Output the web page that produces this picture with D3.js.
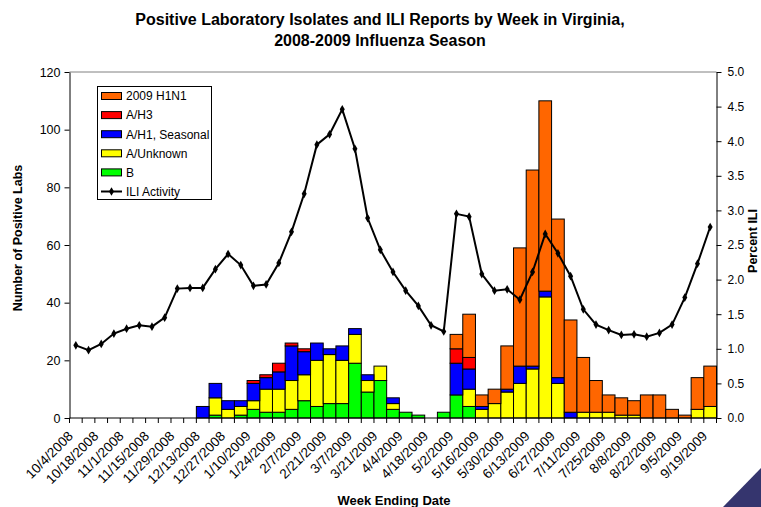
<!DOCTYPE html>
<html><head><meta charset="utf-8">
<script src="https://cdn.jsdelivr.net/npm/d3@7"></script>
<style>
body{margin:0;background:#fff;}
svg{display:block;}
text{font-family:"Liberation Sans",Arial,sans-serif;fill:#000;}
</style></head><body>
<svg id="c" width="761" height="507"></svg>
<script>
const weeks = ["10/4/2008","10/11/2008","10/18/2008","10/25/2008","11/1/2008","11/8/2008","11/15/2008","11/22/2008","11/29/2008","12/6/2008","12/13/2008","12/20/2008","12/27/2008","1/3/2009","1/10/2009","1/17/2009","1/24/2009","1/31/2009","2/7/2009","2/14/2009","2/21/2009","2/28/2009","3/7/2009","3/14/2009","3/21/2009","3/28/2009","4/4/2009","4/11/2009","4/18/2009","4/25/2009","5/2/2009","5/9/2009","5/16/2009","5/23/2009","5/30/2009","6/6/2009","6/13/2009","6/20/2009","6/27/2009","7/4/2009","7/11/2009","7/18/2009","7/25/2009","8/1/2009","8/8/2009","8/15/2009","8/22/2009","8/29/2009","9/5/2009","9/12/2009","9/19/2009"];
const B        = [0,0,0,0,0,0,0,0,0,0, 0,1,0,1,3,2,2,3,6,4, 5,5,19,9,13,3,2,1,0,2, 8,4,0,0,0,0,0,0,0,0, 0,0,0,0,0,0,0,0,0,0,0];
const AUnknown = [0,0,0,0,0,0,0,0,0,0, 0,6,3,3,3,8,8,10,9,16, 17,15,10,4,5,2,0,0,0,0, 0,6,3,5,9,12,17,42,12,0, 2,2,2,1,1,0,0,0,0,3,4];
const AH1      = [0,0,0,0,0,0,0,0,0,0, 4,5,3,2,6,4,6,12,8,6, 2,5,2,2,0,2,0,0,0,0, 11,7,1,0,1,6,1,2,2,2, 0,0,0,0,0,0,0,0,0,0,0];
const AH3      = [0,0,0,0,0,0,0,0,0,0, 0,0,0,0,1,1,3,1,1,0, 0,0,0,0,0,0,0,0,0,0, 5,4,0,0,0,0,0,0,0,0, 0,0,0,0,0,0,0,0,0,0,0];
const H1N1     = [0,0,0,0,0,0,0,0,0,0, 0,0,0,0,0,0,0,0,0,0, 0,0,0,0,0,0,0,0,0,0, 5,15,4,5,15,41,68,66,55,32, 19,11,6,6,5,8,8,3,1,11,14];
const ILI      = [1.05,0.98,1.07,1.22,1.29,1.34,1.32,1.45,1.87,1.88, 1.88,2.15,2.37,2.21,1.91,1.93,2.24,2.69,3.24,3.95, 4.10,4.46,3.89,2.89,2.43,2.11,1.84,1.62,1.34,1.25, 2.95,2.91,2.08,1.84,1.86,1.71,2.11,2.66,2.38,2.05, 1.57,1.35,1.27,1.20,1.21,1.175,1.23,1.35,1.74,2.23,2.76];
const leftTicks = [0,20,40,60,80,100,120];
const rightTicks = [0,0.5,1,1.5,2,2.5,3,3.5,4,4.5,5];
const seriesNames = ["B","A/Unknown","A/H1, Seasonal","A/H3","2009 H1N1"];
const seriesColors = ["#00FF00","#FFFF00","#0000FF","#FF0000","#FF6600"];
const legendOrder = ["2009 H1N1","A/H3","A/H1, Seasonal","A/Unknown","B"];

const svg = d3.select("#c");
const L = 69.5, R = 716.5, T = 72, Bt = 418;
const x = d3.scaleBand().domain(weeks).range([L, R]).padding(0);
const y = d3.scaleLinear().domain([0,120]).range([Bt, T]);
const y2 = d3.scaleLinear().domain([0,5]).range([Bt, T]);

const rows = weeks.map((w,i)=>({week:w, "B":B[i], "A/Unknown":AUnknown[i], "A/H1, Seasonal":AH1[i], "A/H3":AH3[i], "2009 H1N1":H1N1[i]}));
const stack = d3.stack().keys(seriesNames)(rows);

// top border of plot
svg.append("line").attr("x1",L).attr("x2",R).attr("y1",T).attr("y2",T).attr("stroke","#808080").attr("stroke-width",1);

// bars
svg.append("g").selectAll("g").data(stack).join("g")
  .attr("fill",(d,i)=>seriesColors[i])
  .selectAll("rect").data(d=>d.filter(s=>s[1]-s[0]>0)).join("rect")
  .attr("x",d=>x(d.data.week)).attr("width",x.bandwidth())
  .attr("y",d=>y(d[1])).attr("height",d=>y(d[0])-y(d[1]))
  .attr("stroke","#000").attr("stroke-width",1);

// left axis
const gl = svg.append("g").attr("transform",`translate(${L},0)`)
  .call(d3.axisLeft(y).tickValues(leftTicks).tickSize(5).tickSizeOuter(0).tickPadding(4));
gl.selectAll("text").style("font-size","12.5px").attr("fill","#000");
gl.selectAll("line,path").attr("stroke","#000");

// right axis
const gr = svg.append("g").attr("transform",`translate(${R},0)`)
  .call(d3.axisRight(y2).tickValues(rightTicks).tickFormat(d3.format(".1f")).tickSize(5).tickSizeOuter(0).tickPadding(6));
gr.selectAll("text").style("font-size","12px").attr("fill","#000");
gr.selectAll("line,path").attr("stroke","#000");

// bottom axis
svg.append("line").attr("x1",L).attr("x2",R).attr("y1",Bt).attr("y2",Bt).attr("stroke","#000");
svg.append("g").selectAll("line").data(weeks.concat([null])).join("line")
  .attr("x1",(d,i)=>L+i*x.step()).attr("x2",(d,i)=>L+i*x.step())
  .attr("y1",Bt).attr("y2",Bt+5).attr("stroke","#000");
svg.append("g").selectAll("text").data(weeks.filter((d,i)=>i%2===0)).join("text")
  .attr("transform",d=>`translate(${x(d)+x.bandwidth()/2-2},437) rotate(-45)`)
  .attr("text-anchor","end").style("font-size","13.5px").text(d=>d);

// ILI line
const line = d3.line().x((d,i)=>x(weeks[i])+x.bandwidth()/2).y(d=>y2(d));
svg.append("path").datum(ILI).attr("d",line).attr("fill","none").attr("stroke","#000").attr("stroke-width",2);
const diamond = d3.symbol().type(d3.symbolDiamond).size(22);
svg.append("g").selectAll("path").data(ILI).join("path")
  .attr("transform",(d,i)=>`translate(${x(weeks[i])+x.bandwidth()/2},${y2(d)})`)
  .attr("d",diamond).attr("fill","#000");

// legend
const lg = svg.append("g");
lg.append("rect").attr("x",97.5).attr("y",86.5).attr("width",114).attr("height",113).attr("fill","#fff").attr("stroke","#000");
legendOrder.forEach((n,k)=>{
  const cy = 96 + k*19.1;
  lg.append("rect").attr("x",101.5).attr("y",cy-3.5).attr("width",20).attr("height",7)
    .attr("fill",seriesColors[seriesNames.indexOf(n)]).attr("stroke","#000");
  lg.append("text").attr("x",126).attr("y",cy).attr("dy","0.36em").style("font-size","12px").text(n);
});
{
  const cy = 96 + 5*19.1;
  lg.append("line").attr("x1",101).attr("x2",122).attr("y1",cy).attr("y2",cy).attr("stroke","#000").attr("stroke-width",2);
  lg.append("path").attr("transform",`translate(111.5,${cy})`).attr("d",diamond).attr("fill","#000");
  lg.append("text").attr("x",126).attr("y",cy).attr("dy","0.36em").style("font-size","12px").text("ILI Activity");
}

// titles
svg.append("text").attr("x",380).attr("y",25).attr("text-anchor","middle")
  .style("font-family",'"Liberation Sans Narrow","Liberation Sans",Arial,sans-serif')
  .style("font-size","16px").style("font-weight","bold").text("Positive Laboratory Isolates and ILI Reports by Week in Virginia,");
svg.append("text").attr("x",380).attr("y",46).attr("text-anchor","middle")
  .style("font-family",'"Liberation Sans Narrow","Liberation Sans",Arial,sans-serif')
  .style("font-size","16px").style("font-weight","bold").text("2008-2009 Influenza Season");
svg.append("text").attr("x",394).attr("y",505).attr("text-anchor","middle")
  .style("font-size","13px").style("font-weight","bold").text("Week Ending Date");
svg.append("text").attr("transform","translate(22,238) rotate(-90)").attr("text-anchor","middle")
  .style("font-size","12.5px").style("font-weight","bold").text("Number of Positive Labs");
svg.append("text").attr("transform","translate(757,241) rotate(-90)").attr("text-anchor","middle")
  .style("font-size","12.5px").style("font-weight","bold").text("Percent ILI");

// corner decoration
svg.append("path").attr("d","M723,507 L761,468 L761,507 Z").attr("fill","#35356e");
</script>
</body></html>
